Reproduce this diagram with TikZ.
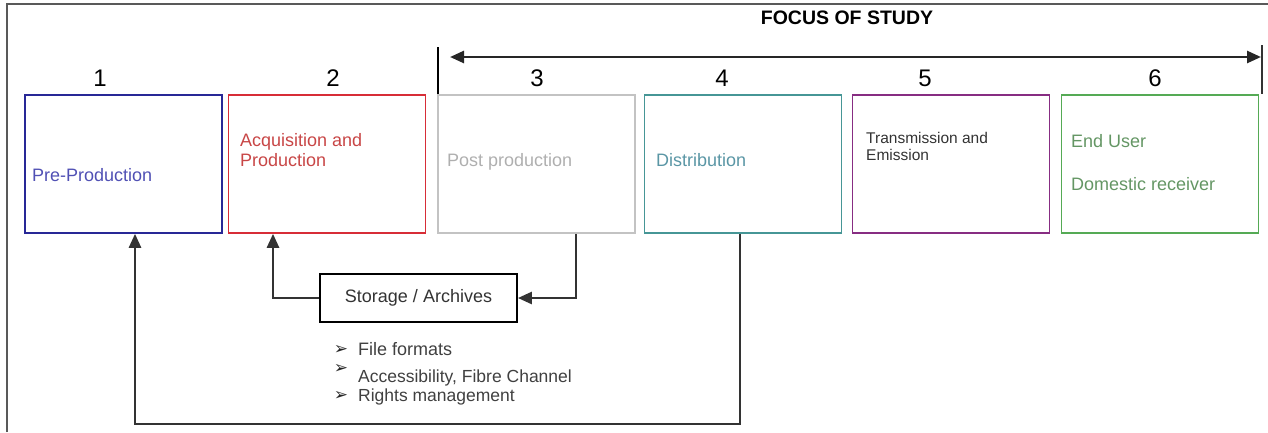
\documentclass[tikz,border=0pt]{standalone}
\usepackage{fontspec}
\setmainfont{Liberation Sans}
\newfontfamily\dingfont{DejaVu Sans}
\usetikzlibrary{arrows.meta}
\definecolor{preblue}{RGB}{40,40,150}
\definecolor{pretext}{RGB}{80,80,180}
\definecolor{acqred}{RGB}{215,45,55}
\definecolor{acqtext}{RGB}{200,70,70}
\definecolor{postgray}{RGB}{195,195,195}
\definecolor{posttext}{RGB}{175,175,175}
\definecolor{distteal}{RGB}{70,150,150}
\definecolor{disttext}{RGB}{90,150,165}
\definecolor{transpurple}{RGB}{135,45,130}
\definecolor{endgreen}{RGB}{85,170,85}
\definecolor{endtext}{RGB}{100,150,100}
\tikzset{
  stage/.style={draw, line width=1.6pt, minimum width=197pt, minimum height=138pt, inner sep=0pt},
  boxtext/.style={anchor=base west, inner sep=0pt, font=\fontsize{18}{21}\selectfont},
  stagenum/.style={font=\fontsize{24}{28}\selectfont},
  link/.style={draw=black!80, line width=2.6pt, -{Triangle[length=14pt,width=12pt]}},
  bullet/.style={anchor=center, inner sep=0pt, font=\dingfont\fontsize{17}{17}\selectfont, text=black!85}
}
\begin{document}
\begin{tikzpicture}[x=1pt,y=-1pt]
\useasboundingbox (0,0) rectangle (1268,432);
\draw[black!65, line width=1.3pt] (7,432) -- (7,4) -- (1268,4);

% stages
\node[stage, draw=preblue] (pre) at (123.5,164) {};
\node[stage, draw=acqred] (acq) at (327,164) {};
\node[stage, draw=postgray] (post) at (536.5,164) {};
\node[stage, draw=distteal] (dist) at (743,164) {};
\node[stage, draw=transpurple] (trans) at (951,164) {};
\node[stage, draw=endgreen] (end) at (1160,164) {};

\node[boxtext, text=pretext] (pretxt) at (32,181) {Pre-Production};
\node[boxtext, text=acqtext] (acqtxt) at (240,146) {Acquisition and};
\node[boxtext, text=acqtext] (acqtxt2) at (240,166) {Production};
\node[boxtext, text=posttext] (posttxt) at (447,166) {Post production};
\node[boxtext, text=disttext] (disttxt) at (656,166) {Distribution};
\node[boxtext, text=black!80, font=\fontsize{15.5}{18}\selectfont] (transtxt) at (866,143) {Transmission and};
\node[boxtext, text=black!80, font=\fontsize{15.5}{18}\selectfont] (transtxt2) at (866,160) {Emission};
\node[boxtext, text=endtext] (endtxt) at (1071,147) {End User};
\node[boxtext, text=endtext] (endtxt2) at (1071,190) {Domestic receiver};

% numbers
\node[stagenum] (n1) at (100,78) {1};
\node[stagenum] (n2) at (333,78) {2};
\node[stagenum] (n3) at (537,78) {3};
\node[stagenum] (n4) at (722,78) {4};
\node[stagenum] (n5) at (925,78) {5};
\node[stagenum] (n6) at (1155,78) {6};

% focus of study
\node[font=\bfseries\fontsize{19.5}{22}\selectfont] (focus) at (847,18) {FOCUS OF STUDY};
\coordinate (fl) at (438,47);
\coordinate (fr) at (1262,45);
\draw[line width=2.4pt] (fl) -- (fl |- post.north);
\draw[line width=2pt, black!80] (fr) -- (fr |- end.north);
\draw[line width=2.6pt, black!85, {Triangle[length=14pt,width=12pt]}-{Triangle[length=14pt,width=12pt]}] (450,57) -- (1261,57);

% storage
\node[draw, line width=1.8pt, minimum width=197pt, minimum height=48pt, font=\fontsize{18}{21}\selectfont, text=black!80] (store) at (418.5,298) {Storage / Archives};
\draw[link] (store.west) -| (acq.south -| 273,0);
\draw[link] (post.south -| 576,0) |- (store.east);
\draw[link] (dist.south -| 740,0) -- (740,424) -- (135,424) -- (pre.south -| 135,0);

% notes
\node[bullet] (b1) at (341,350) {➢};
\node[bullet] (b2) at (341,369) {➢};
\node[bullet] (b3) at (341,396) {➢};
\node[boxtext, text=black!75] (f1) at (358,355) {File formats};
\node[boxtext, text=black!75, font=\fontsize{17.5}{19}\selectfont] (f2) at (358,382) {Accessibility, Fibre Channel};
\node[boxtext, text=black!75, font=\fontsize{17.5}{19}\selectfont] (f3) at (358,401) {Rights management};
\end{tikzpicture}
\end{document}
